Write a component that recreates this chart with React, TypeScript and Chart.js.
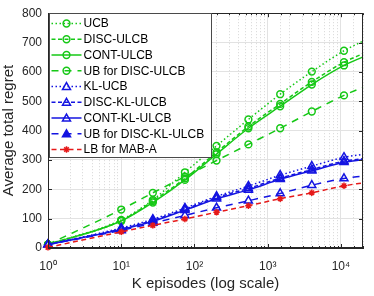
import React, { useEffect, useRef } from 'react';
import { Chart, registerables } from 'chart.js';

Chart.register(...registerables);

// ---------- data ----------
const episodes = [1, 10, 27, 74, 200, 545, 1480, 4000, 11000, 20000];
const ucb = [12, 96, 164, 258, 348, 438, 524, 601, 672, 705];
const discUlcb = [12, 93, 160, 237, 326, 414, 491, 566, 633, 662];
const contUlcb = [12, 92, 155, 232, 320, 408, 483, 557, 622, 651];
const ubDiscUlcb = [12, 131, 188, 243, 298, 353, 408, 465, 520, 548];
const klUcb = [12, 68, 98, 136, 176, 211, 248, 279, 309, 319];
const discKlUlcb = [12, 65, 94, 132, 172, 203, 238, 267, 296, 304];
const contKlUlcb = [12, 63, 91, 129, 168, 198, 234, 263, 292, 301];
const ubDiscKlUlcb = [12, 60, 85, 111, 137, 161, 186, 214, 237, 245];
const lbMabA = [2, 55, 77, 99, 122, 144, 168, 188, 212, 222];

const seriesLabels = [
  'UCB',
  'DISC-ULCB',
  'CONT-ULCB',
  'UB for DISC-ULCB',
  'KL-UCB',
  'DISC-KL-ULCB',
  'CONT-KL-ULCB',
  'UB for DISC-KL-ULCB',
  'LB for MAB-A',
];
const seriesValues = [ucb, discUlcb, contUlcb, ubDiscUlcb, klUcb, discKlUlcb, contKlUlcb, ubDiscKlUlcb, lbMabA];

const xMin = 1;
const xMax = 20000;
const yMin = 0;
const yMax = 800;
const yStep = 100;
const xTickLabels: Record<number, string> = { 0: '10⁰', 1: '10¹', 2: '10²', 3: '10³', 4: '10⁴' };
const xTitle = 'K episodes (log scale)';
const yTitle = 'Average total regret';

// ---------- styles ----------
const GREEN = 'rgb(22,200,22)';
const BLUE = 'rgb(20,20,225)';
const RED = 'rgb(230,25,25)';
const DOT = [1.5, 2.5];
const SHORT = [4, 2.5];
const LONG = [7, 6];
const SOLID: number[] = [];
const styles = [
  { color: GREEN, dash: DOT, marker: 'circle' },
  { color: GREEN, dash: SHORT, marker: 'circle' },
  { color: GREEN, dash: SOLID, marker: 'circle' },
  { color: GREEN, dash: LONG, marker: 'circle' },
  { color: BLUE, dash: DOT, marker: 'triangle' },
  { color: BLUE, dash: SHORT, marker: 'triangle' },
  { color: BLUE, dash: SOLID, marker: 'triangle' },
  { color: BLUE, dash: LONG, marker: 'triangle', legendFill: true },
  { color: RED, dash: [5, 3.5], marker: 'star' },
];
const markerRadius: Record<string, number> = { circle: 3.4, triangle: 4.6, star: 3.2 };
const FONT = "'Liberation Sans', Arial, Helvetica, sans-serif";
const AXIS_COLOR = '#262626';

const isDecade = (v: number | undefined) => {
  if (v === undefined || v <= 0) return false;
  const l = Math.log10(v);
  return Math.abs(l - Math.round(l)) < 1e-9;
};

function drawMarker(ctx: CanvasRenderingContext2D, type: string, x: number, y: number, r: number, fill: boolean) {
  ctx.beginPath();
  if (type === 'circle') {
    ctx.arc(x, y, r, 0, Math.PI * 2);
  } else if (type === 'triangle') {
    for (let k = 0; k < 3; k++) {
      const a = -Math.PI / 2 + (k * 2 * Math.PI) / 3;
      const px = x + Math.cos(a) * r;
      const py = y + Math.sin(a) * r + r * 0.15;
      if (k === 0) ctx.moveTo(px, py);
      else ctx.lineTo(px, py);
    }
    ctx.closePath();
  } else {
    for (let k = 0; k < 4; k++) {
      const a = (k * Math.PI) / 4;
      ctx.moveTo(x - Math.cos(a) * r, y - Math.sin(a) * r);
      ctx.lineTo(x + Math.cos(a) * r, y + Math.sin(a) * r);
    }
  }
  if (fill && type !== 'star') ctx.fill();
  ctx.stroke();
}

const framePlugin = {
  id: 'frame',
  afterDatasetsDraw(chart: any) {
    const { ctx, chartArea: a, scales } = chart;
    ctx.save();
    ctx.strokeStyle = AXIS_COLOR;
    ctx.lineWidth = 1;
    ctx.setLineDash([]);
    // inward ticks
    const xs = scales.x;
    ctx.beginPath();
    xs.ticks.forEach((t: any) => {
      const px = Math.round(xs.getPixelForValue(t.value)) + 0.5;
      const len = isDecade(t.value) ? 4 : 2;
      ctx.moveTo(px, a.bottom);
      ctx.lineTo(px, a.bottom - len);
      ctx.moveTo(px, a.top);
      ctx.lineTo(px, a.top + len);
    });
    const ys = scales.y;
    ys.ticks.forEach((t: any) => {
      const py = Math.round(ys.getPixelForValue(t.value)) + 0.5;
      ctx.moveTo(a.left, py);
      ctx.lineTo(a.left + 4, py);
      ctx.moveTo(a.right, py);
      ctx.lineTo(a.right - 4, py);
    });
    ctx.stroke();
    ctx.strokeRect(Math.round(a.left) + 0.5, Math.round(a.top) + 0.5, Math.round(a.right - a.left) - 1, Math.round(a.bottom - a.top) - 1);
    ctx.restore();
  },
};

const legendPlugin = {
  id: 'customLegend',
  afterDraw(chart: any) {
    const { ctx, chartArea: a } = chart;
    const left = Math.round(a.left) + 1.5;
    const top = Math.round(a.top) + 0.5;
    const width = 162;
    const rowH = 15.75;
    const height = 144;
    ctx.save();
    ctx.fillStyle = '#ffffff';
    ctx.fillRect(left, top, width, height);
    ctx.strokeStyle = '#4a4a4a';
    ctx.lineWidth = 1;
    ctx.setLineDash([]);
    ctx.strokeRect(left, top, width, height);
    ctx.font = `12px ${FONT}`;
    ctx.textBaseline = 'middle';
    ctx.textAlign = 'left';
    chart.data.datasets.forEach((ds: any, i: number) => {
      const st = styles[i];
      const y = top + 10 + i * rowH;
      ctx.strokeStyle = st.color;
      ctx.fillStyle = st.color;
      ctx.lineWidth = 1.5;
      ctx.setLineDash(st.dash);
      ctx.beginPath();
      ctx.moveTo(left + 2, y);
      ctx.lineTo(left + 32, y);
      ctx.stroke();
      ctx.setLineDash([]);
      drawMarker(ctx, st.marker, left + 17, y, markerRadius[st.marker], !!(st as any).legendFill);
      ctx.fillStyle = '#000000';
      ctx.fillText(ds.label, left + 34, y + 0.5);
    });
    ctx.restore();
  },
};

export default function App() {
  const canvasRef = useRef<HTMLCanvasElement | null>(null);

  useEffect(() => {
    if (!canvasRef.current) return;
    const n = episodes.length;
    const datasets = seriesValues.map((vals, i) => {
      const st = styles[i];
      return {
        label: seriesLabels[i],
        data: vals.map((v, k) => ({ x: episodes[k], y: v })),
        borderColor: st.color,
        backgroundColor: 'rgba(0,0,0,0)',
        borderWidth: 1.5,
        borderDash: st.dash,
        pointStyle: st.marker,
        pointRadius: episodes.map((_, k) => (k === n - 1 ? 0 : markerRadius[st.marker])),
        pointBorderColor: st.color,
        pointBackgroundColor: 'rgba(0,0,0,0)',
        pointBorderWidth: 1.5,
        cubicInterpolationMode: 'monotone',
        order: seriesValues.length - i,
        clip: 8,
      };
    });

    const chart = new Chart(canvasRef.current, {
      type: 'line',
      data: { datasets } as any,
      options: {
        animation: false,
        responsive: true,
        maintainAspectRatio: false,
        layout: { padding: { top: 10, right: 9, left: 0, bottom: 0 } },
        plugins: { legend: { display: false }, tooltip: { enabled: false } },
        scales: {
          x: {
            type: 'logarithmic',
            min: xMin,
            max: xMax,
            afterFit: (s: any) => {
              s.height = 48;
            },
            grid: {
              drawTicks: false,
              color: (c: any) => (isDecade(c.tick?.value) ? '#e2e2e2' : '#d6d6d6'),
              lineWidth: 1,
            },
            border: {
              display: true,
              color: AXIS_COLOR,
              width: 1,
              dash: (c: any) => (c.tick && !isDecade(c.tick.value) ? [1, 2] : []),
            },
            ticks: {
              autoSkip: false,
              maxRotation: 0,
              padding: 11,
              color: AXIS_COLOR,
              font: { size: 12, family: FONT },
              callback: (v: any) => {
                const val = Number(v);
                if (!isDecade(val)) return '';
                return xTickLabels[Math.round(Math.log10(val))] ?? '';
              },
            },
            title: {
              display: true,
              text: xTitle,
              color: AXIS_COLOR,
              font: { size: 15, family: FONT },
              padding: { top: 0, bottom: 3 },
            },
          },
          y: {
            min: yMin,
            max: yMax,
            afterFit: (s: any) => {
              s.width = 48;
            },
            grid: { drawTicks: false, color: '#e2e2e2', lineWidth: 1 },
            border: { display: true, color: AXIS_COLOR, width: 1 },
            ticks: {
              stepSize: yStep,
              padding: 6,
              color: AXIS_COLOR,
              font: { size: 12, family: FONT },
            },
            title: {
              display: true,
              text: yTitle,
              color: AXIS_COLOR,
              font: { size: 15, family: FONT },
              padding: 0,
            },
          },
        },
      } as any,
      plugins: [framePlugin, legendPlugin],
    });
    return () => chart.destroy();
  }, []);

  return (
    <div style={{ position: 'absolute', left: 0, top: 0, width: 374, height: 296, background: '#fff' }}>
      <canvas ref={canvasRef} />
    </div>
  );
}
